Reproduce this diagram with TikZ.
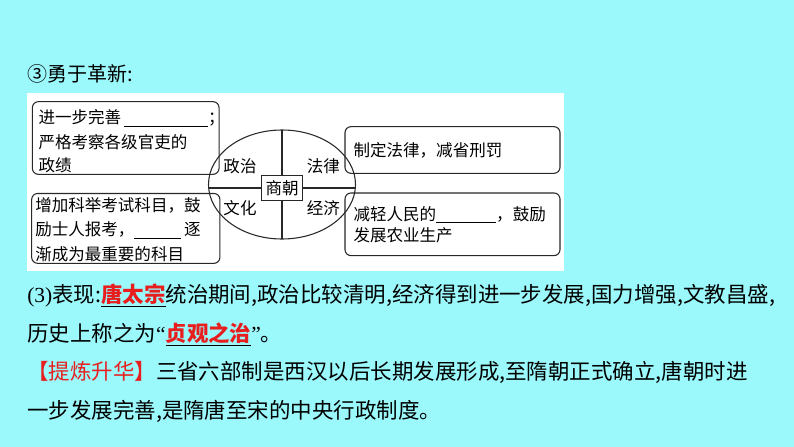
\documentclass[tikz,border=0pt]{standalone}
\usepackage{fontspec}
\setmainfont{Noto Sans CJK SC}
\newfontfamily\latinserif{Liberation Serif}
\usetikzlibrary{shapes.geometric}
\definecolor{bgcyan}{RGB}{155,248,251}
\definecolor{hlred}{RGB}{232,30,30}
\definecolor{linegray}{RGB}{40,40,40}
\newcommand{\boxfont}{\fontsize{12.4pt}{14pt}\selectfont}
\newcommand{\bodyfont}{\fontsize{16.1pt}{19pt}\selectfont}
\newcommand{\titlefont}{\fontsize{15pt}{18pt}\selectfont}
\begin{document}
\begin{tikzpicture}[x=0.75pt,y=-0.75pt,
  infobox/.style={draw=linegray, line width=0.8pt, rounded corners=4.5pt, fill=white, inner sep=0pt},
  boxtext/.style={anchor=west, inner sep=0pt, font=\boxfont},
  labeltext/.style={inner sep=0pt, font=\boxfont},
  bodytext/.style={anchor=west, inner sep=0pt, font=\bodyfont}]
% background and panel
\path[fill=bgcyan] (0,0) rectangle (794,447);
\useasboundingbox (0,0) rectangle (794,447);
\path[fill=white] (27,93) rectangle (564,271);

% title
\node[anchor=west, inner sep=0pt, font=\titlefont] (title) at (27,74) {③勇于革新:};

% four boxes
\node[infobox, minimum width=140pt, minimum height=54.5pt] (tl) at (125.7,138) {};
\node[infobox, minimum width=141.2pt, minimum height=52.4pt] (bl) at (125.8,228.4) {};
\node[infobox, minimum width=161.25pt, minimum height=35pt] (tr) at (452.5,150) {};
\node[infobox, minimum width=161.25pt, minimum height=47pt] (br) at (452.5,224.3) {};

% box texts
\node[boxtext] (tl1) at (38.3,118.3) {进一步完善\hspace{1.8pt}\rule[-2pt]{63.3pt}{0.6pt}；};
\node[boxtext] (tl2) at (38.3,141.7) {严格考察各级官吏的};
\node[boxtext] (tl3) at (38.3,165) {政绩};
\node[boxtext] (bl1) at (35,205) {增加科举考试科目，鼓};
\node[boxtext] (bl2) at (35,230) {励士人报考，\rule[-2.8pt]{35pt}{0.6pt}\hspace{2.25pt}逐};
\node[boxtext] (bl3) at (35,254) {渐成为最重要的科目};
\node[boxtext] (tr1) at (353.3,150) {制定法律，减省刑罚};
\node[boxtext] (br1) at (353.3,215) {减轻人民的\rule[-1.5pt]{45pt}{0.6pt}，鼓励};
\node[boxtext] (br2) at (353.3,235) {发展农业生产};

% central oval with cross
\begin{scope}
  \clip (282,184.5) ellipse [x radius=55.125pt, y radius=40.875pt];
  \draw[linegray, line width=0.8pt] (282,120) -- (282,250);
  \draw[linegray, line width=0.8pt] (200,188) -- (365,188);
\end{scope}
\node[draw=linegray, line width=0.8pt, ellipse, minimum width=110.25pt, minimum height=81.75pt, inner sep=0pt] (oval) at (282,184.5) {};
\node[draw=linegray, line width=0.8pt, fill=white, minimum width=30.75pt, minimum height=19.3pt, inner sep=0pt, font=\boxfont] (center) at (282.2,187.9) {商朝};

\node[labeltext] (zz) at (240,166.7) {政治};
\node[labeltext] (fl) at (323.3,166.7) {法律};
\node[labeltext] (wh) at (240,208.3) {文化};
\node[labeltext] (jj) at (323.3,208.3) {经济};

% body text
\node[bodytext] (l1) at (27,295.5) {{\latinserif (3)}表现:\underline{\textcolor{hlred}{\bfseries 唐太宗}}统治期间,政治比较清明,经济得到进一步发展,国力增强,文教昌盛,};
\node[bodytext] (l2) at (27,334.5) {历史上称之为{\latinserif “}\underline{\textcolor{hlred}{\bfseries 贞观之治}}{\latinserif ”}。};
\node[bodytext] (l3) at (27,372.5) {\textcolor{hlred}{【提炼升华】}三省六部制是西汉以后长期发展形成,至隋朝正式确立,唐朝时进};
\node[bodytext] (l4) at (27,411) {一步发展完善,是隋唐至宋的中央行政制度。};
\end{tikzpicture}
\end{document}
